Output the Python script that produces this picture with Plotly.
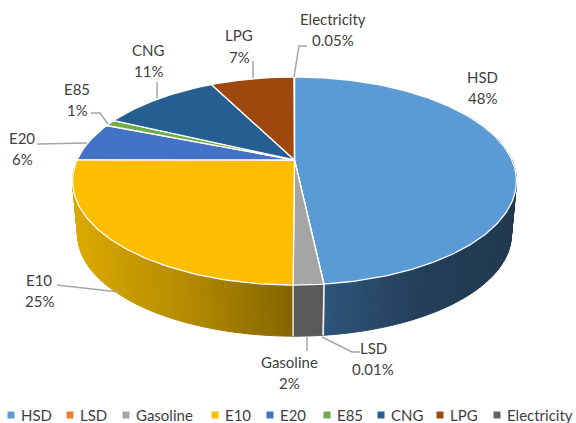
import numpy as np
import plotly.graph_objects as go

fuels = ["HSD", "LSD", "Gasoline", "E10", "E20", "E85", "CNG", "LPG", "Electricity"]
shares = [48.3, 0.01, 1.8, 25.0, 6.0, 1.0, 10.5, 7.4, 0.05]
share_labels = ["48%", "0.01%", "2%", "25%", "6%", "1%", "11%", "7%", "0.05%"]
colors = ["#5b9bd5", "#ed7d31", "#a5a5a5", "#fdbe00", "#4472c4", "#70ad47", "#255e91", "#9e480e", "#636363"]

# wall gradient, left to right
wall_colors = {
    "HSD": ["#2e557b", "#243f58", "#213a50"],
    "Gasoline": ["#595959", "#595959", "#595959"],
    "E10": ["#dcaa00", "#b58c00", "#856600"],
}

# pixel layout of the labels: name (x, y of the first line, y of the second)
label_pos = {
    "HSD": (482, 77, 98), "LSD": (373, 348, 369), "Gasoline": (289, 362, 383),
    "E10": (39, 280, 301), "E20": (22, 138, 159), "E85": (77, 89, 110),
    "CNG": (148, 50, 71), "LPG": (239, 35, 57), "Electricity": (333, 19, 40),
}
leader_lines = [
    [(294, 77), (299, 46), (307, 46)],
    [(253, 78), (253, 61)],
    [(157, 98), (157, 82)],
    [(108, 124), (100, 113), (91, 113)],
    [(87, 143), (37, 144)],
    [(119, 292), (57, 285)],
    [(307, 337), (307, 351)],
    [(322, 337), (352, 352), (360, 352)],
]
legend_marker_x = [11, 70, 126, 215, 270, 327, 381, 440, 497]

# perspective projection of the disk
CX, CY = 294.5, 160
A, B, K = 217.4, 99.8, 0.2019
WALL_SCALE, WALL_CY = 0.977, 214


def project(theta, scale=1.0, cy=CY):
    u, v = np.sin(theta), np.cos(theta)
    d = 1 + K * v
    return CX + scale * A * u / d, cy - scale * B * v / d


def hex_mix(stops, t):
    rgb = [[int(c[i:i + 2], 16) for i in (1, 3, 5)] for c in stops]
    pos = np.linspace(0, 1, len(stops))
    vals = [np.interp(t, pos, [c[n] for c in rgb]) for n in range(3)]
    return "rgb(%d,%d,%d)" % tuple(vals)


fig = go.Figure()

edges = np.cumsum([0] + shares) / sum(shares) * 2 * np.pi

# side walls, drawn as thin strips so the shading can run across x
for name, start, end in zip(fuels, edges[:-1], edges[1:]):
    if name not in wall_colors:
        continue
    lo, hi = max(start, np.radians(60)), min(end, np.radians(300))
    steps = np.linspace(lo, hi, int((hi - lo) / np.radians(1.2)) + 2)
    xs = project(steps)[0]
    x_min, x_max = xs.min(), xs.max()
    for t0, t1 in zip(steps[:-1], steps[1:]):
        x0, y0 = project(t0)
        x1, y1 = project(t1)
        x2, y2 = project(t1, WALL_SCALE, WALL_CY)
        x3, y3 = project(t0, WALL_SCALE, WALL_CY)
        c = hex_mix(wall_colors[name], ((x0 + x1) / 2 - x_min) / (x_max - x_min))
        fig.add_trace(go.Scatter(x=[x0, x1, x2, x3, x0], y=[y0, y1, y2, y3, y0], mode="lines",
                                 fill="toself", fillcolor=c, line=dict(color=c, width=1),
                                 showlegend=False, hoverinfo="skip"))

# white seams between the walls
for edge in edges[1:4]:
    x0, y0 = project(edge)
    x1, y1 = project(edge, WALL_SCALE, WALL_CY)
    fig.add_trace(go.Scatter(x=[x0, x1], y=[y0, y1], mode="lines", line=dict(color="#e8e8e8", width=1.5),
                             showlegend=False, hoverinfo="skip"))

# top face
for name, color, start, end in zip(fuels, colors, edges[:-1], edges[1:]):
    arc = np.linspace(start, end, max(int((end - start) / np.radians(1)) + 2, 2))
    ax, ay = project(arc)
    fig.add_trace(go.Scatter(x=np.r_[CX, ax, CX], y=np.r_[CY, ay, CY], mode="lines", fill="toself",
                             fillcolor=color, line=dict(color="white", width=1.3),
                             name=name, showlegend=False, hoverinfo="skip"))

for pts in leader_lines:
    fig.add_trace(go.Scatter(x=[p[0] for p in pts], y=[p[1] for p in pts], mode="lines",
                             line=dict(color="#a6a6a6", width=1.5), showlegend=False, hoverinfo="skip"))

fig.add_trace(go.Scatter(x=legend_marker_x, y=[415] * len(fuels), mode="markers",
                         marker=dict(symbol="square", size=7, color=colors, line=dict(width=0)),
                         showlegend=False, hoverinfo="skip"))

annotations = []
for name, share in zip(fuels, share_labels):
    x, y1, y2 = label_pos[name]
    annotations.append(dict(x=x, y=y1, text=name, xanchor="center", yanchor="middle"))
    annotations.append(dict(x=x, y=y2, text=share, xanchor="center", yanchor="middle"))
for name, x in zip(fuels, legend_marker_x):
    annotations.append(dict(x=x + 9, y=415, text=name, xanchor="left", yanchor="middle"))
for a in annotations:
    a.update(showarrow=False, font=dict(size=15), xref="x", yref="y", borderpad=0)

fig.update_layout(
    width=576, height=423, autosize=False,
    margin=dict(l=0, r=0, t=0, b=0),
    paper_bgcolor="white", plot_bgcolor="white",
    font=dict(family="Lato, Carlito, sans-serif", size=15, color="#404040"),
    xaxis=dict(range=[0, 576], visible=False, fixedrange=True),
    yaxis=dict(range=[423, 0], visible=False, fixedrange=True),
    annotations=annotations,
)
fig.write_html("out.html", post_script="document.body.style.margin='0'", config=dict(displayModeBar=False))
